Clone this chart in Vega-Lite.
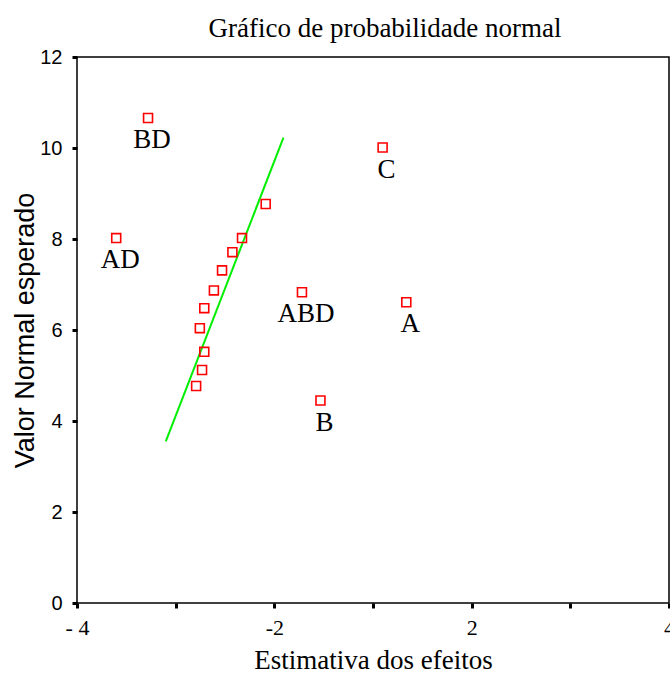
{
  "$schema": "https://vega.github.io/schema/vega-lite/v6.json",
  "autosize": "none",
  "width": 592,
  "height": 546,
  "padding": {"left": 77, "top": 57, "right": 1, "bottom": 72},
  "background": "white",
  "title": {
    "text": "Gráfico de probabilidade normal",
    "font": "Liberation Serif",
    "fontSize": 27,
    "fontWeight": "normal",
    "color": "black",
    "anchor": "middle",
    "dx": 12,
    "offset": 4
  },
  "config": {
    "view": {"stroke": "black", "strokeWidth": 1.5},
    "axis": {"grid": false, "domain": false, "tickColor": "black", "labelColor": "black", "titleColor": "black"}
  },
  "datasets": {
    "pts": [
      {"x": -3.04, "y": 10.66, "label": "BD"},
      {"x": -3.47, "y": 8.02, "label": "AD"},
      {"x": 0.13, "y": 10.01, "label": "C"},
      {"x": -0.96, "y": 6.83, "label": "ABD"},
      {"x": 0.45, "y": 6.61, "label": "A"},
      {"x": -0.71, "y": 4.45, "label": "B"},
      {"x": -1.45, "y": 8.77, "label": ""},
      {"x": -1.77, "y": 8.02, "label": ""},
      {"x": -1.90, "y": 7.71, "label": ""},
      {"x": -2.04, "y": 7.31, "label": ""},
      {"x": -2.15, "y": 6.87, "label": ""},
      {"x": -2.28, "y": 6.48, "label": ""},
      {"x": -2.34, "y": 6.04, "label": ""},
      {"x": -2.28, "y": 5.52, "label": ""},
      {"x": -2.31, "y": 5.12, "label": ""},
      {"x": -2.39, "y": 4.77, "label": ""}
    ],
    "fit": [
      {"x": -2.80, "y": 3.55},
      {"x": -1.21, "y": 10.23}
    ]
  },
  "layer": [
    {
      "data": {"name": "fit"},
      "mark": {"type": "line", "color": "#00ee00", "strokeWidth": 2},
      "encoding": {
        "x": {
          "field": "x", "type": "quantitative",
          "scale": {"domain": [-4, 4], "nice": false, "zero": false},
          "axis": {
            "title": "Estimativa dos efeitos",
            "titleFont": "Liberation Serif", "titleFontSize": 27, "titleFontWeight": "normal",
            "titlePadding": 9,
            "values": [-4, -2.6667, -1.3333, 0, 1.3333, 2.6667, 4],
            "labelExpr": "datum.index == 0 ? '- 4' : datum.index == 2/6 ? '-2' : datum.index == 4/6 ? '2' : datum.index == 1 ? '4' : ''",
            "labelFont": "Liberation Serif", "labelFontSize": 22,
            "tickSize": 5, "tickWidth": 3, "labelPadding": 9,
            "labelFlush": false
          }
        },
        "y": {
          "field": "y", "type": "quantitative",
          "scale": {"domain": [0, 12], "nice": false},
          "axis": {
            "title": "Valor Normal esperado",
            "titleFont": "Liberation Sans", "titleFontSize": 27, "titleFontWeight": "normal",
            "titlePadding": 0,
            "values": [0, 2, 4, 6, 8, 10, 12],
            "labelFont": "Liberation Sans", "labelFontSize": 20,
            "tickSize": 5, "tickWidth": 3, "labelPadding": 10
          }
        }
      }
    },
    {
      "data": {"name": "pts"},
      "mark": {"type": "point", "shape": "square", "size": 80, "color": "#ff0000", "filled": false, "strokeWidth": 1.6, "opacity": 1},
      "encoding": {
        "x": {"field": "x", "type": "quantitative"},
        "y": {"field": "y", "type": "quantitative"}
      }
    },
    {
      "data": {"name": "pts"},
      "mark": {"type": "text", "font": "Liberation Serif", "fontSize": 27, "baseline": "top", "align": "center", "dy": 9, "dx": 4, "color": "black"},
      "encoding": {
        "x": {"field": "x", "type": "quantitative"},
        "y": {"field": "y", "type": "quantitative"},
        "text": {"field": "label"}
      }
    }
  ]
}
